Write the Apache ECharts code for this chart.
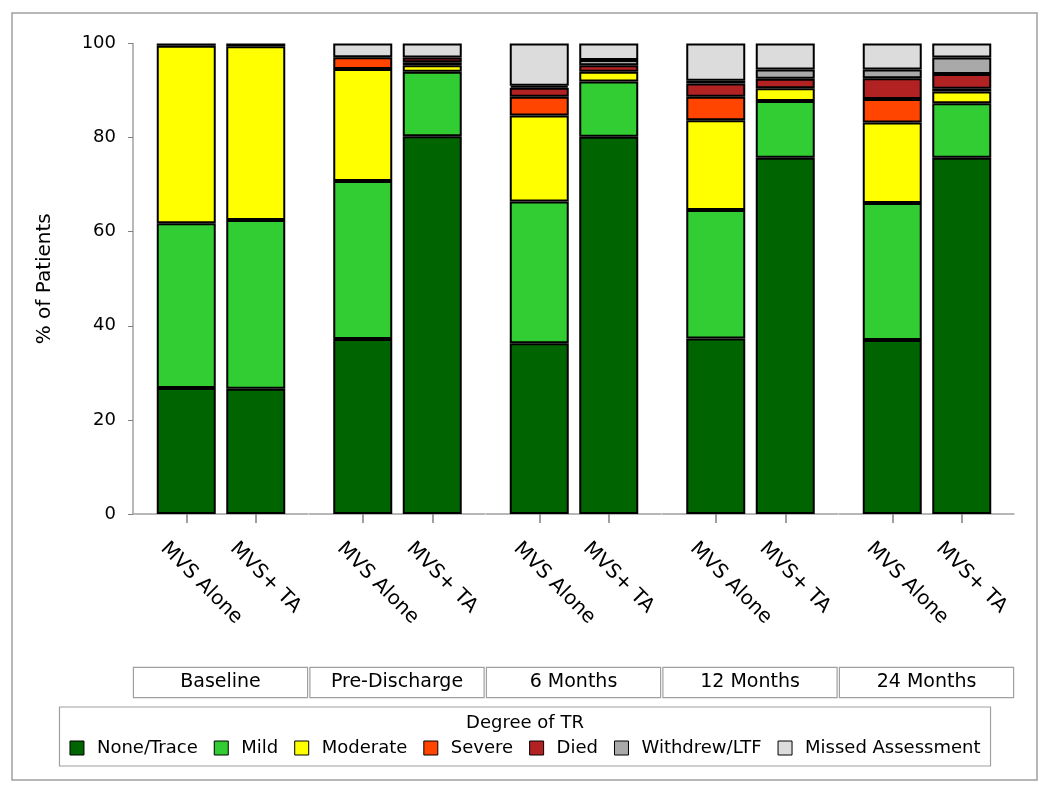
<!DOCTYPE html>
<html>
<head>
<meta charset="utf-8">
<script src="https://cdn.jsdelivr.net/npm/echarts@6/dist/echarts.min.js"></script>
<style>html,body{margin:0;padding:0;background:#fff}#chart{width:1050px;height:795px}</style>
</head>
<body>
<div id="chart"></div>
<script>
// ---- data ----
const timepoints = ['Baseline', 'Pre-Discharge', '6 Months', '12 Months', '24 Months'];
const arms = ['MVS Alone', 'MVS+ TA'];
const degrees = ['None/Trace', 'Mild', 'Moderate', 'Severe', 'Died', 'Withdrew/LTF', 'Missed Assessment'];
const yTicks = [0, 20, 40, 60, 80, 100];
// values per bar, ordered: [Baseline Alone, Baseline TA, Pre-D Alone, Pre-D TA, 6M Alone, 6M TA, 12M Alone, 12M TA, 24M Alone, 24M TA]
const noneTrace = [26.8, 26.6, 37.2, 80.3, 36.3, 80.2, 37.3, 75.7, 37.0, 75.7];
const mild      = [35.0, 35.9, 33.6, 13.7, 30.1, 11.7, 27.3, 12.1, 29.1, 11.6];
const moderate  = [37.7, 36.9, 23.8, 1.4, 18.3, 2.1, 19.1, 2.7, 17.1, 2.5];
const severe    = [0, 0, 2.5, 0.6, 4.0, 0, 5.0, 0, 5.0, 0.6];
const died      = [0, 0, 0, 1.0, 1.9, 1.4, 2.8, 2.0, 4.4, 3.1];
const withdrew  = [0, 0, 0, 0, 0.4, 1.1, 0.6, 2.0, 1.9, 3.5];
const missed    = [0.5, 0.6, 2.9, 3.0, 9.0, 3.5, 7.9, 5.5, 5.5, 3.0];

const seriesValues = [noneTrace, mild, moderate, severe, died, withdrew, missed];
const colors = ['#006400', '#32CD32', '#FFFF00', '#FF4500', '#B22222', '#A9A9A9', '#DCDCDC'];

// ---- layout ----
const FONT = 'DejaVu Sans';
const plotTop = 43.5, plotHeight = 470.5;
const panelStart = 133, panelStep = 176.5, panelWidth = 175;
const barBand = 69.5;

const grids = [], xAxes = [], yAxes = [], series = [];
timepoints.forEach((tp, i) => {
  const left = panelStart + panelStep * i;
  grids.push({ left: left, width: panelWidth, top: plotTop, height: plotHeight });
  xAxes.push({
    type: 'category', gridIndex: i, data: [tp],
    axisLine: { show: true, lineStyle: { color: '#a0a0a0', width: 1.5 } },
    axisTick: { show: false },
    axisLabel: {
      margin: 154, fontFamily: FONT, fontSize: 19, color: '#000',
      backgroundColor: '#fff', borderColor: '#a0a0a0', borderWidth: 1.2,
      width: 173, height: 29, lineHeight: 29, align: 'center', padding: 0
    }
  });
  yAxes.push(i === 0 ? {
    type: 'value', gridIndex: i, min: 0, max: 100, interval: 20,
    axisLine: { show: true, lineStyle: { color: '#a0a0a0', width: 1.5 } },
    axisTick: { show: true, length: 5, lineStyle: { color: '#808080' } },
    axisLabel: { fontFamily: FONT, fontSize: 18, color: '#000', margin: 17 },
    splitLine: { show: false },
    name: '% of Patients', nameLocation: 'middle', nameGap: 78,
    nameTextStyle: { fontFamily: FONT, fontSize: 20, color: '#000' }
  } : { type: 'value', gridIndex: i, min: 0, max: 100, show: false, splitLine: { show: false } });
});
timepoints.forEach((tp, i) => {
  const center = panelStart + panelStep * i + 88;
  grids.push({ left: center - barBand, width: barBand * 2, top: plotTop, height: plotHeight });
  xAxes.push({
    type: 'category', gridIndex: 5 + i, data: arms, offset: 3,
    axisLine: { show: false },
    axisTick: { show: true, alignWithLabel: true, length: 9, lineStyle: { color: '#808080', width: 1.5 } },
    axisLabel: {
      rotate: -45, margin: 6, fontFamily: FONT, fontSize: 20, color: '#000', interval: 0,
      verticalAlign: 'top', lineHeight: 20, padding: [22, 0, 0, 0]
    }
  });
  yAxes.push({ type: 'value', gridIndex: 5 + i, min: 0, max: 100, show: false, splitLine: { show: false } });
  degrees.forEach((d, k) => {
    const vals = seriesValues[k];
    series.push({
      type: 'bar', name: d, xAxisIndex: 5 + i, yAxisIndex: 5 + i,
      stack: 'tp' + i, barWidth: 59,
      data: [vals[2 * i], vals[2 * i + 1]].map(v => v === 0 ? null : v),
      itemStyle: { color: colors[k], borderColor: '#000', borderWidth: 2 },
      emphasis: { disabled: true }
    });
  });
});

const chart = echarts.init(document.getElementById('chart'), null, { renderer: 'canvas' });
chart.setOption({
  animation: false,
  backgroundColor: '#fff',
  color: colors,
  title: {
    text: 'Degree of TR', left: 'center', top: 709,
    textStyle: { fontFamily: FONT, fontSize: 18, fontWeight: 'normal', color: '#000' }
  },
  legend: {
    data: degrees, left: 'center', top: 707,
    padding: [32, 10, 9, 10],
    borderColor: '#a0a0a0', borderWidth: 1.2,
    itemWidth: 14, itemHeight: 14, itemGap: 16,
    icon: 'rect',
    itemStyle: { borderColor: '#000', borderWidth: 1 },
    textStyle: { fontFamily: FONT, fontSize: 18, color: '#000', padding: [0, 0, 0, 8] },
    selectedMode: false
  },
  graphic: [{
    type: 'rect', silent: true, z: -1,
    shape: { x: 12, y: 13, width: 1025, height: 767 },
    style: { fill: 'none', stroke: '#a0a0a0', lineWidth: 1.5 }
  }],
  grid: grids,
  xAxis: xAxes,
  yAxis: yAxes,
  series: series
});
</script>
</body>
</html>
